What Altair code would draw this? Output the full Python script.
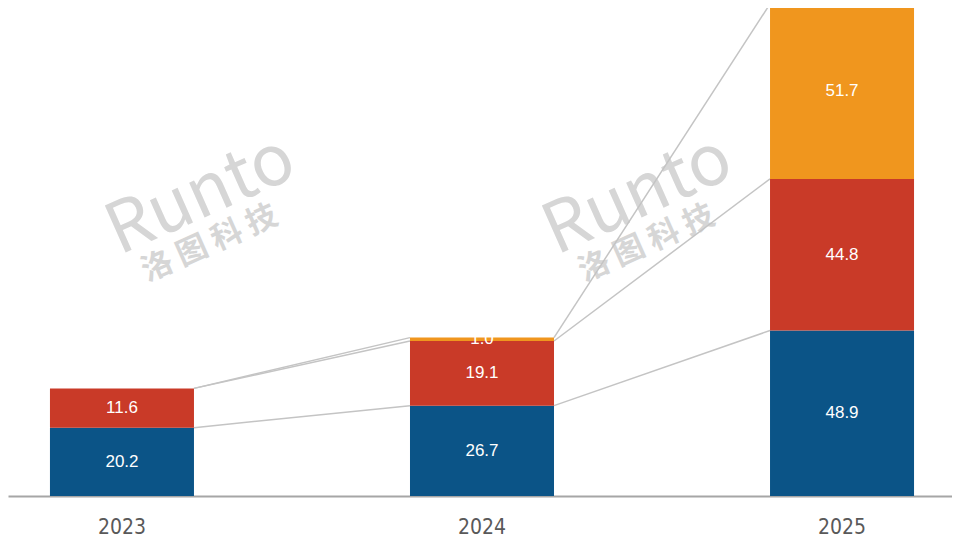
import altair as alt
import pandas as pd

years = ["2023", "2024", "2025"]
series_names = ["系列1", "系列2", "系列3"]
blue_vals = [20.2, 26.7, 48.9]
red_vals = [11.6, 19.1, 44.8]
orange_vals = [0.0, 1.0, 51.7]
colors = ["#0b5487", "#c93a28", "#f0961e"]

series_vals = [blue_vals, red_vals, orange_vals]

PAD_INNER = 0.6
PAD_OUTER = 0.111
ALIGN = 0.525
W, H = 944, 488

# bars (stacked, cumulative computed)
bar_rows = []
cum = [0.0] * len(years)
tops = []
for s, vals in zip(series_names, series_vals):
    t = []
    for i, y in enumerate(years):
        y0 = cum[i]
        y1 = y0 + vals[i]
        cum[i] = y1
        t.append(y1)
        bar_rows.append({"year": y, "series": s, "y0": y0, "y1": y1,
                         "mid": (y0 + y1) / 2, "value": vals[i],
                         "label": f"{vals[i]:.1f}" if vals[i] > 0 else ""})
    tops.append(t)
bars_df = pd.DataFrame(bar_rows)

# connector lines: from right edge of bar i to left edge of bar i+1 (in category-index units)
half = (1 - PAD_INNER) / 2
line_rows = []
for s, t in zip(series_names, tops):
    for i in range(len(years) - 1):
        line_rows.append({"xa": i + half, "xb": i + 1 - half,
                          "ya": t[i], "yb": t[i + 1], "series": s})
lines_df = pd.DataFrame(line_rows)

# equivalent linear domain for the band layout (index units)
n = len(years)
step = W / (n - PAD_INNER + 2 * PAD_OUTER)
start = (W - step * (n - PAD_INNER)) * ALIGN
c0 = start + step * (1 - PAD_INNER) / 2
lin_domain = [-c0 / step, (W - c0) / step]

xscale = alt.Scale(domain=years, paddingInner=PAD_INNER, paddingOuter=PAD_OUTER,
                   align=ALIGN, round=False)
yscale = alt.Scale(domain=[0, 144.2], nice=False, zero=True)

base = alt.Chart(bars_df)

bars = base.mark_bar(clip=True).encode(
    x=alt.X("year:N", scale=xscale, sort=years,
            axis=alt.Axis(title=None, labelAngle=0, ticks=False, labelFontSize=21,
                          labelColor="#595959",
                          labelFont="'DejaVu Sans Condensed', 'Liberation Sans Narrow', 'Liberation Sans'",
                          labelPadding=20, domainColor="#a6a6a6", domainWidth=2)),
    y=alt.Y("y0:Q", scale=yscale, axis=None),
    y2="y1:Q",
    color=alt.Color("series:N", scale=alt.Scale(domain=series_names, range=colors), legend=None),
)

labels = base.mark_text(color="white", fontSize=17, font="Liberation Sans", baseline="middle").encode(
    x=alt.X("year:N", scale=xscale, sort=years),
    y=alt.Y("mid:Q", scale=yscale),
    text="label:N",
)

bar_layer = alt.layer(bars, labels)

lines = alt.Chart(lines_df).mark_rule(color="#c4c4c4", strokeWidth=1.5).encode(
    x=alt.X("xa:Q", scale=alt.Scale(domain=lin_domain, nice=False, zero=False), axis=None),
    x2="xb:Q",
    y=alt.Y("ya:Q", scale=yscale),
    y2="yb:Q",
)

wm_df = pd.DataFrame([
    {"t": "Runto", "px": 193, "py": 188, "s": 70},
    {"t": "洛  图  科  技", "px": 202, "py": 236, "s": 31},
    {"t": "Runto", "px": 630, "py": 188, "s": 70},
    {"t": "洛  图  科  技", "px": 639, "py": 236, "s": 31},
])
wm_layers = []
for _, r in wm_df.iterrows():
    wm_layers.append(
        alt.Chart(pd.DataFrame([{"t": r["t"]}])).mark_text(
            angle=336, color="#d6d6d6", fontSize=int(r["s"]), font="Noto Sans CJK SC",
            fontWeight="bold" if r["t"] != "Runto" else "normal",
            align="center", baseline="middle"
        ).encode(x=alt.value(int(r["px"])), y=alt.value(int(r["py"])), text="t:N")
    )

chart = alt.layer(*wm_layers, lines, bar_layer).resolve_scale(x="independent").properties(
    width=W, height=H,
    padding={"left": 0, "top": 0, "right": 0, "bottom": 44},
    autosize=alt.AutoSizeParams(type="none"),
    background="white",
).configure_view(stroke=None)

chart.save("out.html", embed_options={"renderer": "svg", "actions": False})
